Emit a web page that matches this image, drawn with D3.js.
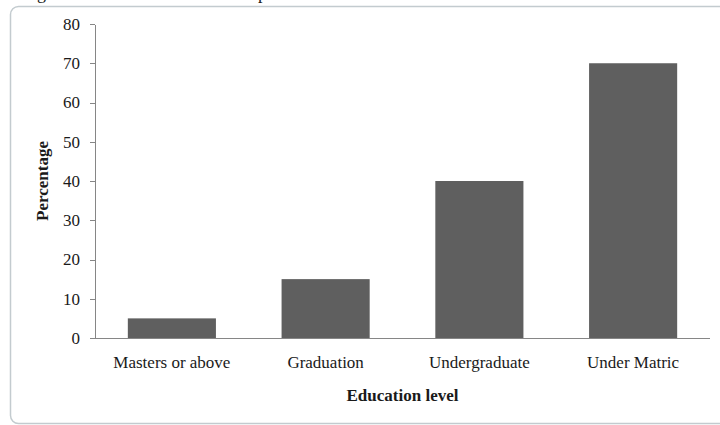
<!DOCTYPE html>
<html>
<head>
<meta charset='UTF-8' />
<style>
  body { margin: 0; background: #ffffff; }
  svg text { font-family: 'Liberation Serif', 'Times New Roman', serif; fill: #1a1a1a; }
  .axis path, .axis line { stroke: #868686; fill: none; shape-rendering: crispEdges; }
  .bar { fill: #5f5f5f; }
</style>
</head>
<body>
<script src='https://d3js.org/d3.v7.min.js'></script>
<script>
'use strict';
const categories = ['Masters or above', 'Graduation', 'Undergraduate', 'Under Matric'];
const values = [5, 15, 40, 70];
const yTicks = [0, 10, 20, 30, 40, 50, 60, 70, 80];

const width = 720, height = 425;
const margin = {top: 24, right: 10, bottom: 87, left: 95};

const svg = d3.select('body').append('svg')
  .attr('width', width)
  .attr('height', height);

// bits of the caption above, cut off by the crop
svg.append('text').attr('x', 37).attr('y', -1).style('font-size', '18px').text('g');
svg.append('text').attr('x', 258).attr('y', -1).style('font-size', '18px').text('p');

// chart frame
svg.append('rect')
  .attr('x', 10.5).attr('y', 6.5)
  .attr('width', 730).attr('height', 417)
  .attr('rx', 8)
  .attr('fill', 'none')
  .attr('stroke', '#c3cbcf')
  .attr('stroke-width', 1.5);

const x = d3.scaleBand()
  .domain(categories)
  .range([margin.left, width - margin.right])
  .paddingInner(0.427)
  .paddingOuter(0.2135);

const y = d3.scaleLinear()
  .domain([0, 80])
  .range([height - margin.bottom, margin.top]);

svg.selectAll('rect.bar')
  .data(values)
  .enter().append('rect')
  .attr('class', 'bar')
  .attr('x', (d, i) => x(categories[i]))
  .attr('width', x.bandwidth())
  .attr('y', d => y(d))
  .attr('height', d => y(0) - y(d));

// y axis
const yAxis = svg.append('g')
  .attr('class', 'axis')
  .attr('transform', 'translate(' + margin.left + ',0)')
  .call(d3.axisLeft(y).tickValues(yTicks).tickSize(5).tickSizeOuter(0).tickPadding(10));
yAxis.selectAll('text').style('font-size', '17px');

// x axis
const xAxis = svg.append('g')
  .attr('class', 'axis')
  .attr('transform', 'translate(0,' + y(0) + ')')
  .call(d3.axisBottom(x).tickSize(0).tickSizeOuter(0).tickPadding(18));
xAxis.select('.domain').attr('d', 'M' + (margin.left - 5) + ',0.5H' + (width - margin.right));
xAxis.selectAll('text').style('font-size', '17px');

// axis titles
svg.append('text')
  .attr('transform', 'translate(48,' + y(40) + ') rotate(-90)')
  .attr('text-anchor', 'middle')
  .style('font-size', '17px')
  .style('font-weight', 'bold')
  .text('Percentage');

svg.append('text')
  .attr('x', (margin.left + width - margin.right) / 2)
  .attr('y', 401)
  .attr('text-anchor', 'middle')
  .style('font-size', '17px')
  .style('font-weight', 'bold')
  .text('Education level');
</script>
</body>
</html>
